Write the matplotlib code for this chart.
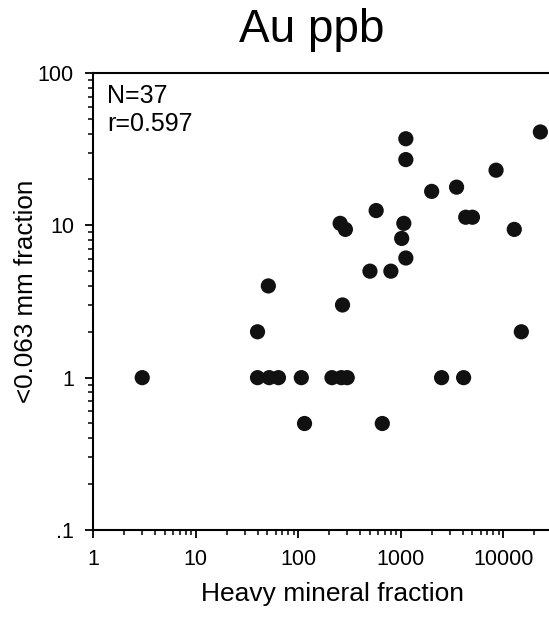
import matplotlib

matplotlib.use("Agg")
import matplotlib.pyplot as plt
import numpy as np
from matplotlib.ticker import FixedLocator, FixedFormatter, LogLocator, NullFormatter

# Au ppb: heavy mineral fraction vs <0.063 mm fraction
heavy = [23000, 1120, 1120, 8500, 2000, 3500, 575, 256, 288, 1070, 4300, 5000,
         12800, 1020, 1120, 500, 800, 51, 270, 40, 15000,
         3, 40, 52, 64, 107, 213, 263, 300, 2500, 4100,
         115, 660]
fine = [41, 37, 27, 23, 16.7, 17.8, 12.5, 10.3, 9.4, 10.3, 11.3, 11.3,
        9.4, 8.2, 6.1, 5.0, 5.0, 4.0, 3.0, 2.0, 2.0,
        1, 1, 1, 1, 1, 1, 1, 1, 1, 1,
        0.5, 0.5]

x_ticks = [1, 10, 100, 1000, 10000]
x_labels = ["1", "10", "100", "1000", "10000"]
y_ticks = [0.1, 1, 10, 100]
y_labels = [".1", "1", "10", "100"]

plt.rcParams["font.family"] = ["Liberation Sans", "DejaVu Sans"]

fig = plt.figure(figsize=(5.49, 6.2), dpi=100)
ax = fig.add_axes([0.1700, 0.1452, 0.8300, 0.7371])

ax.scatter(heavy, fine, s=120, color="#111111", edgecolors="none", zorder=3, clip_on=False)

ax.set_xscale("log")
ax.set_yscale("log")
ax.set_xlim(1, 10 ** 4.446)
ax.set_ylim(0.1, 100)

ax.xaxis.set_major_locator(FixedLocator(x_ticks))
ax.xaxis.set_major_formatter(FixedFormatter(x_labels))
ax.yaxis.set_major_locator(FixedLocator(y_ticks))
ax.yaxis.set_major_formatter(FixedFormatter(y_labels))
ax.xaxis.set_minor_locator(LogLocator(base=10, subs=np.arange(2, 10), numticks=20))
ax.yaxis.set_minor_locator(LogLocator(base=10, subs=np.arange(2, 10), numticks=20))
ax.xaxis.set_minor_formatter(NullFormatter())
ax.yaxis.set_minor_formatter(NullFormatter())

ax.tick_params(axis="both", which="major", direction="out", length=6, width=1.3,
               labelsize=15.5, pad=8)
ax.tick_params(axis="both", which="minor", direction="out", length=3.5, width=1.1)
ax.tick_params(axis="x", which="both", top=False)
ax.tick_params(axis="y", which="both", right=False)

ax.spines["right"].set_visible(False)
for side in ["left", "bottom", "top"]:
    ax.spines[side].set_linewidth(1.5)

ax.set_title("Au ppb", fontsize=33, pad=22)
ax.title.set_x(0.479)
ax.set_xlabel("Heavy mineral fraction", fontsize=19, labelpad=8)
ax.xaxis.label.set_x(0.525)
ax.set_ylabel("<0.063 mm fraction", fontsize=18.7)
ax.yaxis.set_label_coords(-0.122, 0.523)

ax.text(0.031, 0.975, "N=37\nr=0.597", transform=ax.transAxes, fontsize=18,
        ha="left", va="top", linespacing=1.2)

fig.savefig("out.png", dpi=100)
